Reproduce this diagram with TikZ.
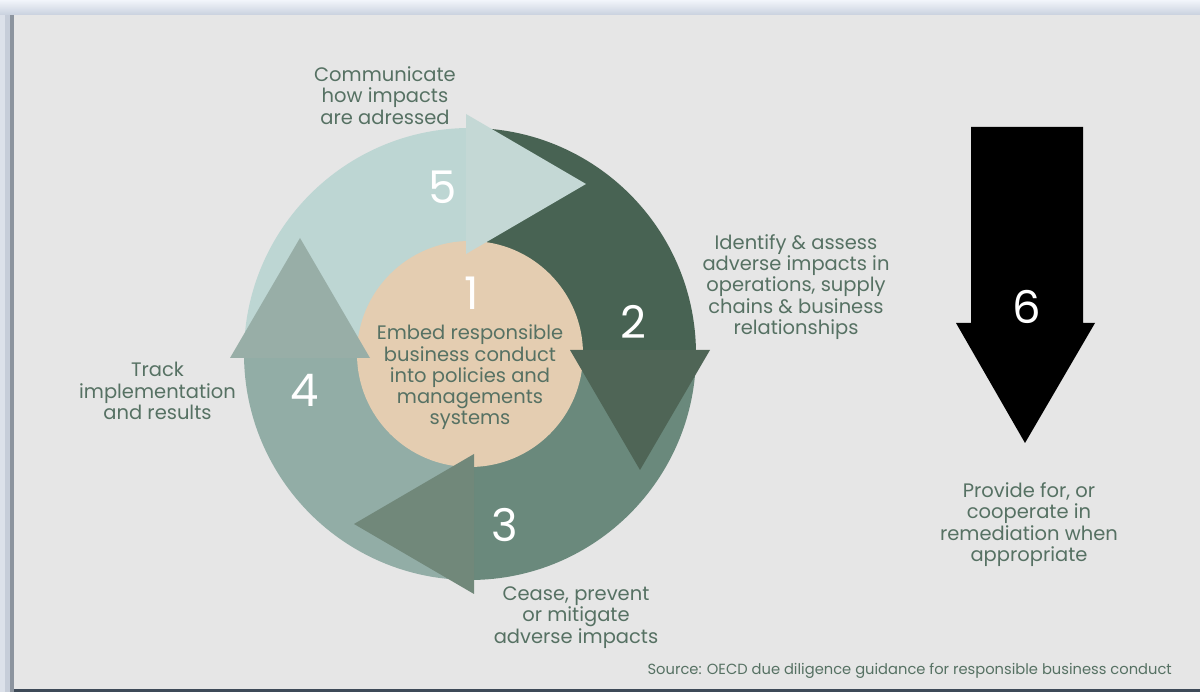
\documentclass[tikz,border=0pt]{standalone}
\usepackage{fontspec}
\setmainfont{Poppins}
\definecolor{bg}{HTML}{E6E6E6}
\definecolor{txt}{HTML}{567163}
\definecolor{core}{HTML}{E4CDB1}
\definecolor{ringA}{HTML}{BDD6D3}
\definecolor{ringB}{HTML}{486353}
\definecolor{ringC}{HTML}{6A897C}
\definecolor{ringD}{HTML}{92ADA6}
\definecolor{headA}{HTML}{C4D8D5}
\definecolor{headB}{HTML}{4F6556}
\definecolor{headC}{HTML}{71887A}
\definecolor{headD}{HTML}{98AEA7}
\definecolor{frameLight}{HTML}{F2F5FB}
\definecolor{frameMid}{HTML}{C9D1DE}
\definecolor{frameSide}{HTML}{DCE1EA}
\definecolor{frameSide2}{HTML}{C6CDD9}
\definecolor{frameEdge}{HTML}{8C949E}
\definecolor{frameDark}{HTML}{3E4A58}
\begin{document}
\begin{tikzpicture}[x=1pt,y=1pt,
  caption/.style={font=\fontsize{19.5}{21.2}\selectfont, text=txt, align=center, inner sep=0pt},
  digit/.style={font=\fontsize{45}{45}\selectfont, text=white, inner sep=0pt},
  source/.style={font=\fontsize{14.7}{16}\selectfont, text=txt, inner sep=0pt},
]
\useasboundingbox (0,0) rectangle (1200,692);
\fill[bg] (0,0) rectangle (1200,692);

% window frame around the slide
\fill[frameSide] (0,0) rectangle (5,677);
\fill[frameSide2] (5,0) rectangle (10,677);
\fill[frameEdge] (10,0) rectangle (13.5,677);
\fill[frameDark] (13.5,0) rectangle (1200,3);
\shade[top color=frameLight, bottom color=frameMid] (0,677) rectangle (1200,692);

% ring of four quarters around the core
\coordinate (C) at (470,338);
\fill[ringA] (C) -- ++(90:226) arc[start angle=90, end angle=180, radius=226] -- cycle;
\fill[ringB] (C) -- ++(0:226) arc[start angle=0, end angle=90, radius=226] -- cycle;
\fill[ringC] (C) -- ++(270:226) arc[start angle=270, end angle=360, radius=226] -- cycle;
\fill[ringD] (C) -- ++(180:226) arc[start angle=180, end angle=270, radius=226] -- cycle;
\fill[core] (C) circle[radius=113];

% arrow heads closing each quarter, clockwise
\foreach \ang/\col in {0/headA, -90/headB, -180/headC, -270/headD}
  \fill[\col, shift={(C)}, rotate=\ang] (-4,240) -- (-4,100) -- (116,170) -- cycle;

% step 6 arrow
\fill[black] (971,565) -- (1083,565) -- (1083,369) -- (1095,369) -- (1025,249)
  -- (956,369) -- (971,369) -- cycle;

% step numbers
\node[digit] (n1) at (472,399) {1};
\node[digit] (n2) at (633,370) {2};
\node[digit] (n3) at (505,167) {3};
\node[digit] (n4) at (305,302) {4};
\node[digit] (n5) at (443,505) {5};
\node[digit] (n6) at (1027,385) {6};

% step descriptions
\node[caption] (t1) at (470,314.5) {Embed responsible\\business conduct\\into policies and\\managements\\systems};
\node[caption] (t2) at (796,405) {Identify \& assess\\adverse impacts in\\operations, supply\\chains \& business\\relationships};
\node[caption] (t3) at (576,74.5) {Cease, prevent\\or mitigate\\adverse impacts};
\node[caption] (t4) at (157.5,301) {Track\\implementation\\and results};
\node[caption] (t5) at (385,596.5) {Communicate\\how impacts\\are adressed};
\node[caption] (t6) at (1029,167.5) {Provide for, or\\cooperate in\\remediation when\\appropriate};

\node[source, anchor=base east] (src) at (1172,17) {Source: OECD due diligence guidance for responsible business conduct};
\end{tikzpicture}
\end{document}
